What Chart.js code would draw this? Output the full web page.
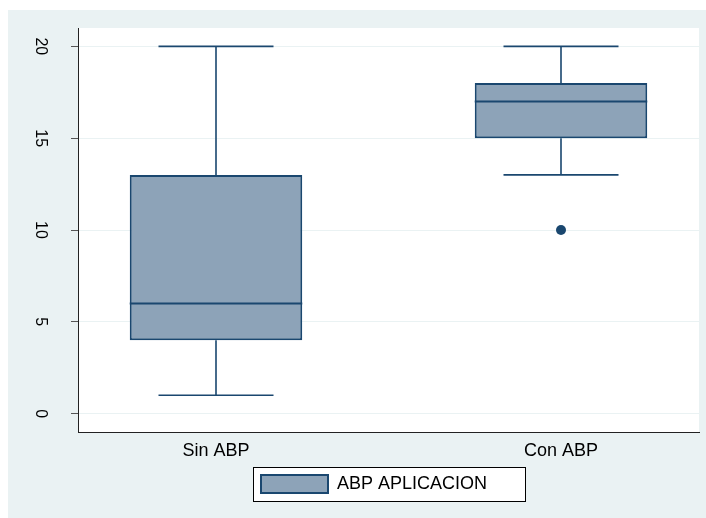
<!DOCTYPE html>
<html>
<head>
<meta charset="utf-8">
<script src="https://cdn.jsdelivr.net/npm/chart.js@4/dist/chart.umd.min.js"></script>
<style>
html,body{margin:0;padding:0;background:#fff;}
#wrap{position:relative;width:706px;height:518px;}
</style>
</head>
<body>
<div id="wrap"><canvas id="c" width="706" height="518"></canvas></div>
<script>
// ---- data ----
const categories = ['Sin ABP', 'Con ABP'];
const seriesLabel = 'ABP APLICACION';
const whiskerLow = [1, 13];
const q1 = [4, 15];
const median = [6, 17];
const q3 = [13, 18];
const whiskerHigh = [20, 20];
const outliers = [[], [10]];
const yTickValues = [0, 5, 10, 15, 20];

// ---- styling ----
const NAVY = '#1a476f';
const BOX_FILL = '#8da3b8';
const BG = '#eaf2f3';
const FONT = "'Liberation Sans', Arial, Helvetica, sans-serif";
const BOX_HALF = 0.25;   // half box width in category units (matches barPercentage 0.5)
const CAP_HALF = 1 / 6;  // half whisker cap width in category units

const xPos = categories.map((_, i) => i + 1);

const boxData = xPos.map((x, i) => ({ x: x, y: [q1[i], q3[i]] }));
const medianData = [];
const whiskerData = [];
const outlierData = [];
xPos.forEach((x, i) => {
  medianData.push({ x: x - BOX_HALF, y: median[i] }, { x: x + BOX_HALF, y: median[i] }, { x: x, y: null });
  whiskerData.push(
    { x: x, y: q3[i] }, { x: x, y: whiskerHigh[i] }, { x: x, y: null },
    { x: x - CAP_HALF, y: whiskerHigh[i] }, { x: x + CAP_HALF, y: whiskerHigh[i] }, { x: x, y: null },
    { x: x, y: q1[i] }, { x: x, y: whiskerLow[i] }, { x: x, y: null },
    { x: x - CAP_HALF, y: whiskerLow[i] }, { x: x + CAP_HALF, y: whiskerLow[i] }, { x: x, y: null }
  );
  outliers[i].forEach(v => outlierData.push({ x: x, y: v }));
});

const bgPlugin = {
  id: 'bgPlugin',
  beforeDraw(chart) {
    const ctx = chart.ctx, a = chart.chartArea;
    ctx.save();
    ctx.fillStyle = '#ffffff';
    ctx.fillRect(0, 0, chart.width, chart.height);
    ctx.fillStyle = BG;
    ctx.fillRect(8, 10, chart.width - 8, chart.height - 10);
    ctx.fillStyle = '#ffffff';
    ctx.fillRect(a.left, a.top, a.right - a.left, a.bottom - a.top);
    ctx.restore();
  }
};

const legendPlugin = {
  id: 'legendPlace',
  afterLayout(chart) {
    const lg = chart.legend, a = chart.chartArea;
    if (!lg) return;
    const pad = lg.options.labels.padding;
    const cx = (a.left + a.right) / 2;
    const frameLeft = Math.round(cx - 136);
    const w = lg.right - lg.left;
    lg.left = frameLeft + 8 - pad;
    lg.right = lg.left + w;
    lg._frameLeft = frameLeft;
  },
  beforeDraw(chart) {
    const lg = chart.legend;
    if (!lg || lg._frameLeft === undefined) return;
    const ctx = chart.ctx;
    const pad = lg.options.labels.padding;
    const bh = lg.options.labels.boxHeight;
    const top = lg.top + pad - 8;
    ctx.save();
    ctx.fillStyle = '#ffffff';
    ctx.fillRect(lg._frameLeft, top, 272, bh + 16);
    ctx.strokeStyle = '#000000';
    ctx.lineWidth = 1;
    ctx.strokeRect(lg._frameLeft + 0.5, top + 0.5, 272, bh + 16);
    ctx.restore();
  }
};

new Chart(document.getElementById('c'), {
  type: 'bar',
  data: {
    datasets: [
      {
        type: 'line', label: 'median', data: medianData, order: 0,
        borderColor: NAVY, borderWidth: 2, pointRadius: 0, fill: false, spanGaps: false, tension: 0
      },
      {
        type: 'bar', label: seriesLabel, data: boxData, order: 1,
        backgroundColor: BOX_FILL, borderColor: NAVY, borderWidth: 2, borderSkipped: false,
        categoryPercentage: 1, barPercentage: 0.5
      },
      {
        type: 'line', label: 'whiskers', data: whiskerData, order: 2,
        borderColor: NAVY, borderWidth: 1.6, pointRadius: 0, fill: false, spanGaps: false, tension: 0
      },
      {
        type: 'scatter', label: 'outliers', data: outlierData, order: 3,
        pointRadius: 5, pointBackgroundColor: NAVY, pointBorderColor: NAVY, pointBorderWidth: 0, showLine: false
      }
    ]
  },
  options: {
    responsive: false,
    animation: false,
    devicePixelRatio: 1,
    layout: { padding: { top: 28, left: 0, right: 7, bottom: 15 } },
    plugins: {
      tooltip: { enabled: false },
      legend: {
        position: 'bottom',
        align: 'start',
        labels: {
          filter: item => item.text === seriesLabel,
          boxWidth: 67, boxHeight: 18, padding: 10,
          color: '#000', font: { family: FONT, size: 18 }
        }
      }
    },
    scales: {
      x: {
        type: 'linear',
        offset: false,
        min: 1 - 0.4,
        max: categories.length + 0.4,
        afterBuildTicks: s => { s.ticks = xPos.map(v => ({ value: v })); },
        afterFit: s => { s.height = 33; s.paddingLeft = 0; s.paddingRight = 0; },
        grid: { display: false, drawTicks: false, offset: false },
        border: { display: true, color: '#222', width: 1 },
        ticks: {
          padding: 8, maxRotation: 0, autoSkip: false,
          color: '#000', font: { family: FONT, size: 18 },
          callback: v => categories[v - 1] || ''
        }
      },
      y: {
        type: 'linear',
        min: -1, max: 21,
        afterBuildTicks: s => { s.ticks = yTickValues.map(v => ({ value: v })); },
        afterFit: s => { s.width = 78; s.paddingTop = 0; s.paddingBottom = 0; },
        grid: { color: BG, lineWidth: 1, drawTicks: true, tickLength: 7, tickColor: '#555' },
        border: { display: true, color: '#222', width: 1 },
        ticks: {
          minRotation: -90, maxRotation: -90, crossAlign: 'center', padding: 22,
          color: '#000', font: { family: FONT, size: 16 }
        }
      }
    }
  },
  plugins: [bgPlugin, legendPlugin]
});
</script>
</body>
</html>
